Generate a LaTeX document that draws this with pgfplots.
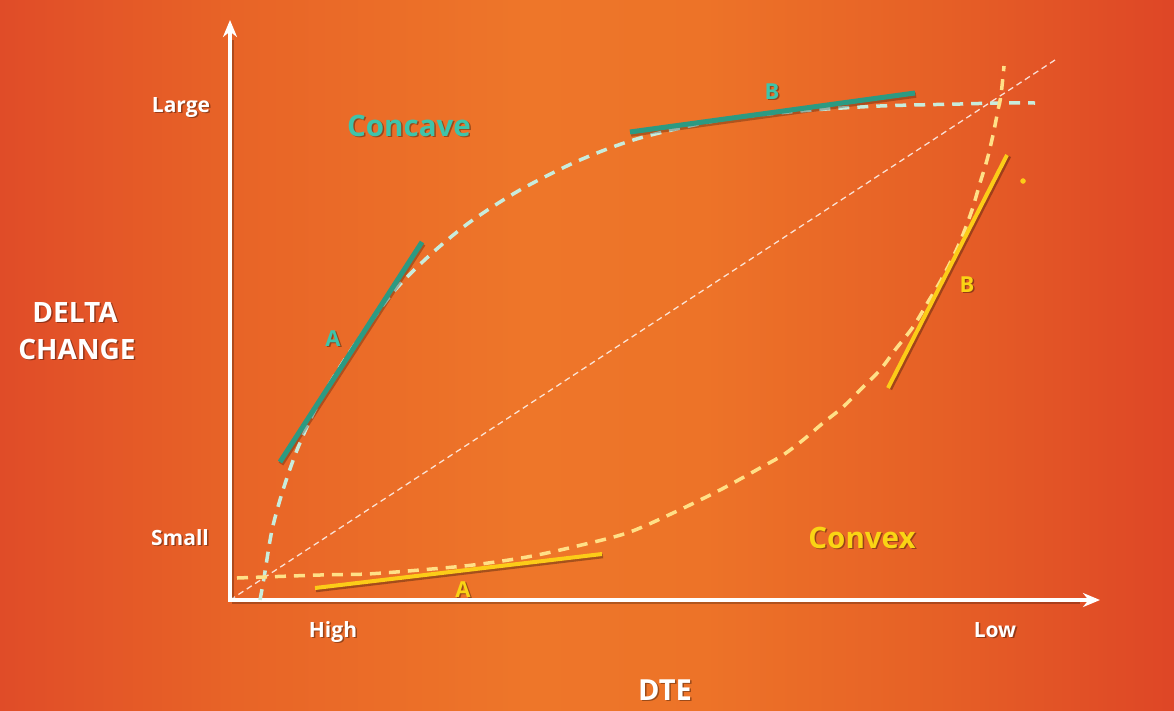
\documentclass[border=0pt]{standalone}
\usepackage{fontspec}
\setmainfont{Open Sans}
\usepackage{pgfplots}
\pgfplotsset{compat=1.18}
\usetikzlibrary{arrows.meta}
\definecolor{tealtxt}{RGB}{62,196,170}
\definecolor{tealline}{RGB}{44,154,130}
\definecolor{mintdash}{RGB}{200,236,220}
\definecolor{yeltxt}{RGB}{250,212,20}
\definecolor{yelline}{RGB}{252,204,24}
\definecolor{yeldash}{RGB}{255,224,135}
\pgfdeclarehorizontalshading{bgshade}{100bp}{%
  rgb(0bp)=(0.878,0.298,0.157);
  rgb(25bp)=(0.878,0.298,0.157);
  rgb(35bp)=(0.910,0.392,0.153);
  rgb(47.5bp)=(0.933,0.463,0.161);
  rgb(55bp)=(0.929,0.451,0.157);
  rgb(65bp)=(0.902,0.376,0.149);
  rgb(75bp)=(0.871,0.275,0.149);
  rgb(100bp)=(0.871,0.275,0.149)}
\newcommand{\lbl}[5]{%
  \node[anchor=base, text=black, opacity=0.35, font=\fontsize{#4}{#4}\selectfont\bfseries, xshift=1.5pt, yshift=-1.8pt] at (axis cs:#1,#2) {#5};
  \node[anchor=base, text=#3, font=\fontsize{#4}{#4}\selectfont\bfseries] at (axis cs:#1,#2) {#5};}
\begin{document}
\begin{tikzpicture}
\begin{axis}[
  width=1174pt, height=710pt, scale only axis,
  xmin=0, xmax=1174, ymin=0, ymax=710, y dir=reverse,
  axis lines=none, ticks=none,
  axis background/.style={shading=bgshade},
]
% white diagonal
\addplot[white, opacity=0.8, line width=1.3pt, dash pattern=on 6pt off 4pt] coordinates {(230,600) (1055,60)};
% axes shadows
\addplot[black, opacity=0.25, line width=3.5pt] coordinates {(232,602) (232,40)};
\addplot[black, opacity=0.25, line width=3.5pt] coordinates {(232,602) (1080,602)};
% axes
\addplot[white, line width=3.5pt, -{Stealth[length=17pt, width=14pt]}] coordinates {(230,601.5) (230,20)};
\addplot[white, line width=3.5pt, -{Stealth[length=17pt, width=14pt]}] coordinates {(228.5,600) (1100,600)};
% concave dashed curve
\addplot[mintdash, line width=3.5pt, dash pattern=on 11pt off 8pt, smooth, tension=0.5] coordinates {
 (260,600) (264,578) (272,530) (283,490) (297,450) (315,410) (338,370) (365,330) (395,290) (430,255) (470,222) (520,190) (580,160) (640,138) (720,120) (800,111) (880,106) (960,104) (1000,103) (1035,103)};
% convex dashed curve
\addplot[yeldash, line width=3.5pt, dash pattern=on 11pt off 8pt, smooth, tension=0.5] coordinates {
 (237,578) (320,575) (367,574) (420,570) (473,565) (527,557) (573,547) (627,533) (673,513) (720,490) (760,468) (783,455) (803,440) (823,423) (843,407) (860,390) (880,370) (895,350) (913,327) (928,302) (940,282) (953,257) (962,237) (972,210) (980,183) (987,160) (993,135) (998,110) (1001,95) (1004,66)};
% tangents concave
\addplot[black, opacity=0.25, line width=5.5pt] coordinates {(281,464) (423,244)};
\addplot[tealline, line width=5pt] coordinates {(280,462) (422,242)};
\addplot[black, opacity=0.25, line width=5.5pt] coordinates {(631,134) (916,95)};
\addplot[tealline, line width=5pt] coordinates {(630,132) (915,93)};
% tangents convex
\addplot[black, opacity=0.3, line width=4.5pt] coordinates {(316,590) (603,556)};
\addplot[yelline, line width=4pt] coordinates {(315,588) (602,554)};
\addplot[black, opacity=0.3, line width=4.5pt] coordinates {(890,389) (1009,156)};
\addplot[yelline, line width=4pt] coordinates {(888,388) (1007,155)};
% dot
\addplot[only marks, mark=*, mark size=2.5pt, yelline, mark options={draw=yelline, fill=yelline}] coordinates {(1023,181)};
% labels
\lbl{181}{112}{white}{21}{Large}
\lbl{180}{545}{white}{21}{Small}
\lbl{333}{637}{white}{21}{High}
\lbl{995}{637}{white}{21}{Low}
\lbl{75}{322}{white}{28}{DELTA}
\lbl{77}{359}{white}{28}{CHANGE}
\lbl{665}{700}{white}{29}{DTE}
\lbl{409}{136}{tealtxt}{29.5}{Concave}
\lbl{862}{548}{yeltxt}{29.5}{Convex}
\lbl{333}{346}{tealtxt}{22}{A}
\lbl{772}{99}{tealtxt}{22}{B}
\lbl{463}{597}{yeltxt}{22}{A}
\lbl{967}{292}{yeltxt}{22}{B}
\end{axis}
\end{tikzpicture}
\end{document}
